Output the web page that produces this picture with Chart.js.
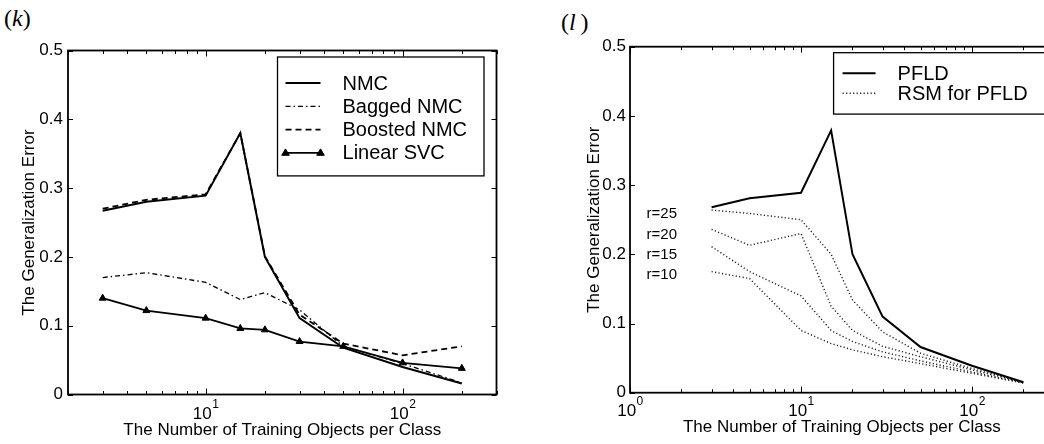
<!DOCTYPE html>
<html>
<head>
<meta charset="utf-8">
<script src="https://cdn.jsdelivr.net/npm/chart.js@4.4.0/dist/chart.umd.min.js"></script>
<style>
html,body{margin:0;padding:0;background:#fff;overflow:hidden;width:1044px;height:444px;position:relative}
#wrapK{position:absolute;left:0;top:0;width:520px;height:444px}
#wrapL{position:absolute;left:560px;top:0;width:560px;height:444px}
.panel{position:absolute;font-family:"Liberation Serif","DejaVu Serif",serif;font-size:24px;line-height:1;color:#000}
.panel i{font-style:italic}
</style>
</head>
<body>
<div class="panel" style="left:4px;top:6px">(<i>k</i>)</div>
<div class="panel" style="left:561px;top:10px">(<i>l</i>&#8201;)</div>
<div id="wrapK"><canvas id="chartK" width="520" height="444"></canvas></div>
<div id="wrapL"><canvas id="chartL" width="560" height="444"></canvas></div>
<script>
// ---------- data ----------
const trainSizes = [3, 5, 10, 15, 20, 30, 50, 100, 200];

// panel (k)
const nmc        = [0.267, 0.280, 0.289, 0.380, 0.200, 0.111, 0.068, 0.040, 0.016];
const baggedNmc  = [0.170, 0.177, 0.163, 0.138, 0.148, 0.123, 0.070, 0.045, 0.017];
const boostedNmc = [0.270, 0.283, 0.291, 0.380, 0.201, 0.116, 0.074, 0.057, 0.070];
const linearSvc  = [0.140, 0.122, 0.111, 0.096, 0.094, 0.077, 0.070, 0.046, 0.038];

// panel (l)
const pfld  = [0.268, 0.281, 0.289, 0.379, 0.200, 0.110, 0.066, 0.039, 0.015];
const rsm25 = [0.264, 0.259, 0.250, 0.200, 0.134, 0.088, 0.057, 0.035, 0.015];
const rsm20 = [0.236, 0.213, 0.230, 0.125, 0.090, 0.067, 0.052, 0.033, 0.015];
const rsm15 = [0.211, 0.175, 0.140, 0.090, 0.074, 0.059, 0.046, 0.030, 0.014];
const rsm10 = [0.175, 0.165, 0.090, 0.071, 0.062, 0.052, 0.042, 0.028, 0.014];

// axes / annotations
const yTicks = [0, 0.1, 0.2, 0.3, 0.4, 0.5];
const xDecades = [1, 10, 100];
const xTitle = 'The Number of Training Objects per Class';
const yTitle = 'The Generalization Error';
const legendK = ['NMC', 'Bagged NMC', 'Boosted NMC', 'Linear SVC'];
const legendL = ['PFLD', 'RSM for PFLD'];
const rLabels = ['r=25', 'r=20', 'r=15', 'r=10'];
const rLabelX = 1.25;
const rLabelY = [0.259, 0.228, 0.199, 0.170];

// ---------- helpers ----------
const FONT = '"Liberation Sans", Arial, Helvetica, sans-serif';
function toPts(vals) { return trainSizes.map((x, i) => ({x: x, y: vals[i]})); }
function seg(ctx, x1, y1, x2, y2) { ctx.beginPath(); ctx.moveTo(x1, y1); ctx.lineTo(x2, y2); ctx.stroke(); }
function tri(ctx, cx, cy, r, lw) {
  ctx.save(); ctx.setLineDash([]); ctx.lineWidth = lw; ctx.strokeStyle = '#000'; ctx.fillStyle = '#000';
  ctx.beginPath();
  ctx.moveTo(cx, cy - r);
  ctx.lineTo(cx + r * 0.95, cy + r * 0.6);
  ctx.lineTo(cx - r * 0.95, cy + r * 0.6);
  ctx.closePath(); ctx.fill(); ctx.stroke(); ctx.restore();
}

const matlabAxes = {
  id: 'matlabAxes',
  afterDatasetsDraw(chart, args, o) {
    const {ctx, chartArea: a, scales: {x, y}} = chart;
    ctx.save();
    ctx.strokeStyle = '#000'; ctx.lineWidth = 1; ctx.setLineDash([]);
    yTicks.forEach(v => {
      const py = Math.round(y.getPixelForValue(v)) + 0.5;
      seg(ctx, a.left, py, a.left + 5, py);
      seg(ctx, a.right, py, a.right - 5, py);
    });
    xDecades.forEach(d => {
      for (let k = 1; k < 10; k++) {
        const v = k * d;
        if (v < x.min - 1e-9 || v > x.max + 1e-9) continue;
        const px = Math.round(x.getPixelForValue(v)) + 0.5;
        const len = k === 1 ? 6 : 3.5;
        seg(ctx, px, a.bottom, px, a.bottom - len);
        seg(ctx, px, a.top, px, a.top + len);
      }
    });
    ctx.lineWidth = 1.8;
    ctx.strokeRect(a.left, a.top, a.right - a.left, a.bottom - a.top);
    // decade labels 10^n
    ctx.fillStyle = '#000'; ctx.textBaseline = 'middle'; ctx.textAlign = 'left';
    xDecades.forEach(d => {
      if (d < x.min - 1e-9 || d > x.max + 1e-9) return;
      const px = x.getPixelForValue(d);
      const exp = String(Math.round(Math.log10(d)));
      ctx.font = '17px ' + FONT; const w1 = ctx.measureText('10').width;
      ctx.font = '12px ' + FONT; const w2 = ctx.measureText(exp).width;
      const x0 = px - (w1 + w2) / 2;
      ctx.font = '17px ' + FONT; ctx.fillText('10', x0, o.labelY);
      ctx.font = '12px ' + FONT; ctx.fillText(exp, x0 + w1 + 0.5, o.labelY - 9);
    });
    // text annotations
    if (o.notes) {
      ctx.font = '15px ' + FONT;
      o.notes.text.forEach((t, i) => {
        ctx.fillText(t, x.getPixelForValue(o.notes.x), y.getPixelForValue(o.notes.y[i]));
      });
    }
    ctx.restore();
  }
};

const boxLegend = {
  id: 'boxLegend',
  afterDatasetsDraw(chart, args, o) {
    const {ctx, chartArea: a} = chart;
    ctx.save();
    ctx.font = o.fontSize + 'px ' + FONT;
    const tw = Math.max(...o.items.map(it => ctx.measureText(it.text).width));
    const w = o.textX + tw + o.padRight;
    const h = o.padTop + o.rowGap * (o.items.length - 1) + o.padBottom;
    const right = a.right - o.marginRight, left = right - w, top = a.top + o.marginTop;
    ctx.fillStyle = '#fff'; ctx.fillRect(left, top, w, h);
    ctx.strokeStyle = '#000'; ctx.lineWidth = 1.3; ctx.setLineDash([]);
    ctx.strokeRect(left, top, w, h);
    o.items.forEach((it, i) => {
      const ds = chart.data.datasets[it.ds];
      const cy = top + o.padTop + i * o.rowGap;
      ctx.save();
      ctx.strokeStyle = ds.borderColor; ctx.lineWidth = ds.borderWidth;
      ctx.setLineDash(ds.borderDash || []);
      seg(ctx, left + o.lineX0, cy, left + o.lineX1, cy);
      ctx.restore();
      if (ds.pointRadius > 0) {
        tri(ctx, left + o.lineX0, cy, ds.pointRadius, ds.pointBorderWidth);
        tri(ctx, left + o.lineX1, cy, ds.pointRadius, ds.pointBorderWidth);
      }
      ctx.fillStyle = '#000'; ctx.textBaseline = 'middle'; ctx.textAlign = 'left';
      ctx.fillText(it.text, left + o.textX, cy + 1);
    });
    ctx.restore();
  }
};

function lineDs(label, vals, dash, width, color, extra) {
  return Object.assign({
    label: label, data: toPts(vals), borderColor: color || '#000', borderWidth: width,
    borderDash: dash, fill: false, tension: 0, pointRadius: 0, pointHoverRadius: 0
  }, extra || {});
}

function makeOptions(cfg) {
  return {
    responsive: false, animation: false, events: [],
    layout: {padding: {top: cfg.top, right: cfg.right, bottom: 0, left: 0}},
    scales: {
      x: {
        type: 'logarithmic', min: cfg.xmin, max: cfg.xmax,
        grid: {display: false}, border: {display: false},
        ticks: {display: false},
        title: {display: true, text: xTitle, color: '#000',
                font: {family: FONT, size: 17, lineHeight: 1}, padding: {top: 0, bottom: cfg.xTitlePad}},
        afterFit: s => { s.height = cfg.xh; }
      },
      y: {
        min: 0, max: 0.5,
        grid: {display: false, drawTicks: false}, border: {display: false},
        ticks: {stepSize: 0.1, color: '#000', padding: cfg.yTickPad,
                font: {family: FONT, size: 17},
                callback: v => (Math.abs(v) < 1e-9 ? '0' : v.toFixed(1))},
        title: {display: true, text: yTitle, color: '#000',
                font: {family: FONT, size: 17, lineHeight: 1}, padding: {top: cfg.yTitlePad, bottom: 0}},
        afterFit: s => { s.width = cfg.yw; }
      }
    },
    plugins: {
      legend: {display: false}, tooltip: {enabled: false},
      matlabAxes: {labelY: cfg.labelY, notes: cfg.notes},
      boxLegend: cfg.legend
    }
  };
}

// ---------- panel (k) ----------
new Chart(document.getElementById('chartK'), {
  type: 'line',
  data: {datasets: [
    lineDs(legendK[0], nmc, [], 2),
    lineDs(legendK[1], baggedNmc, [5, 3, 1.5, 3], 1.3),
    lineDs(legendK[2], boostedNmc, [6, 4], 1.8),
    lineDs(legendK[3], linearSvc, [], 1.8, '#000',
      {pointStyle: 'triangle', pointRadius: 4, pointBorderWidth: 1,
       pointBorderColor: '#000', pointBackgroundColor: '#000'})
  ]},
  options: makeOptions({
    top: 50.5, right: 23.5, xh: 49.5, yw: 68, xmin: 2, xmax: 300,
    xTitlePad: 5, yTitlePad: 21, yTickPad: 5, labelY: 414,
    legend: {items: legendK.map((t, i) => ({text: t, ds: i})), fontSize: 20,
             marginRight: 12.5, marginTop: 6.5, padTop: 26, padBottom: 23, rowGap: 23.3,
             lineX0: 8, lineX1: 43, textX: 65, padRight: 17}
  }),
  plugins: [matlabAxes, boxLegend]
});

// ---------- panel (l) ----------
const dotted = [1.2, 2.3];
new Chart(document.getElementById('chartL'), {
  type: 'line',
  data: {datasets: [
    lineDs(legendL[0], pfld, [], 2),
    lineDs(legendL[1], rsm25, dotted, 1.4, '#222'),
    lineDs(legendL[1], rsm20, dotted, 1.4, '#222'),
    lineDs(legendL[1], rsm15, dotted, 1.4, '#222'),
    lineDs(legendL[1], rsm10, dotted, 1.4, '#222')
  ]},
  options: makeOptions({
    top: 46.7, right: 66.4, xh: 51.3, yw: 70, xmin: 1, xmax: 300,
    xTitlePad: 8, yTitlePad: 25.5, yTickPad: 4, labelY: 411,
    notes: {text: rLabels, x: rLabelX, y: rLabelY},
    legend: {items: [{text: legendL[0], ds: 0}, {text: legendL[1], ds: 1}], fontSize: 20,
             marginRight: 4, marginTop: 6, padTop: 20.6, padBottom: 20.8, rowGap: 20,
             lineX0: 9, lineX1: 42, textX: 64, padRight: 22}
  }),
  plugins: [matlabAxes, boxLegend]
});
</script>
</body>
</html>
